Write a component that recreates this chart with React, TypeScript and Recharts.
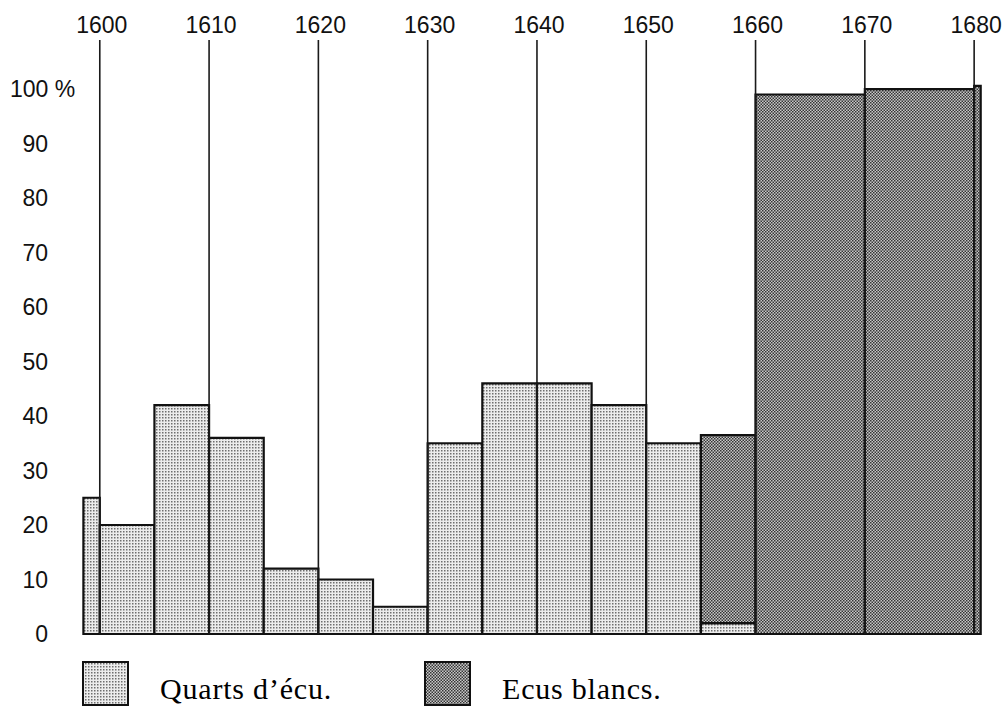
import React from 'react'
import { ComposedChart, XAxis, YAxis, ReferenceArea, ReferenceLine, Line } from 'recharts'

// each period: start year, end year, share of quarts d'écu and of écus blancs (%)
const periodStart = [1598.5, 1600, 1605, 1610, 1615, 1620, 1625, 1630, 1635, 1640, 1645, 1650, 1655, 1660, 1670, 1680]
const periodEnd = [1600, 1605, 1610, 1615, 1620, 1625, 1630, 1635, 1640, 1645, 1650, 1655, 1660, 1670, 1680, 1680.6]
const quartsShare = [25, 20, 42, 36, 12, 10, 5, 35, 46, 46, 42, 35, 2, 0, 0, 0]
const ecusShare = [0, 0, 0, 0, 0, 0, 0, 0, 0, 0, 0, 0, 34.5, 99, 100, 100.6]

const yearTicks = [1600, 1610, 1620, 1630, 1640, 1650, 1660, 1670, 1680]
const percentTicks = [0, 10, 20, 30, 40, 50, 60, 70, 80, 90, 100]

const rows = periodStart.map((start, i) => ({
  start,
  end: periodEnd[i],
  quarts: quartsShare[i],
  ecus: ecusShare[i],
}))

const SANS = '"Liberation Sans", Arial, Helvetica, sans-serif'
const SERIF = '"Liberation Serif", "Times New Roman", serif'

const Patterns = ({ prefix }: { prefix: string }) => (
  <defs>
    <pattern id={`${prefix}-quarts`} width={3} height={3} patternUnits="userSpaceOnUse">
      <rect width={3} height={3} fill="#ececec" />
      <rect x={0} y={0} width={1.5} height={1.5} fill="#6e6e6e" />
    </pattern>
    <pattern id={`${prefix}-ecus`} width={3} height={3} patternUnits="userSpaceOnUse">
      <rect width={3} height={3} fill="#c8c8c8" />
      <rect x={0} y={0} width={1.5} height={1.5} fill="#363636" />
      <rect x={1.5} y={1.5} width={1.5} height={1.5} fill="#363636" />
    </pattern>
  </defs>
)

const YearTick = ({ x, payload }: any) => (
  <text x={x + 2} y={33} textAnchor="middle" fontSize={23} fontFamily={SANS} fill="#111">
    {payload.value}
  </text>
)

const PercentTick = ({ y, payload }: any) =>
  payload.value === 100 ? (
    <text x={10} y={y} dy={8} textAnchor="start" fontSize={23} fontFamily={SANS} fill="#111">
      100 %
    </text>
  ) : (
    <text x={48} y={y} dy={8} textAnchor="end" fontSize={23} fontFamily={SANS} fill="#111">
      {payload.value}
    </text>
  )

const LegendItem = ({ left, label, kind }: { left: number; label: string; kind: string }) => (
  <div style={{ position: 'absolute', left, top: 660, display: 'flex', alignItems: 'flex-end' }}>
    <svg width={48} height={46}>
      <Patterns prefix={`lg-${kind}`} />
      <rect x={1} y={2} width={45} height={43} fill={`url(#lg-${kind}-${kind})`} stroke="#111" strokeWidth={2} />
    </svg>
    <span
      style={{
        fontFamily: SERIF,
        fontSize: 30,
        color: '#000',
        marginLeft: 30,
        lineHeight: '30px',
        paddingBottom: 2,
        letterSpacing: 0.8,
      }}
    >
      {label}
    </span>
  </div>
)

export default function App() {
  return (
    <div style={{ position: 'absolute', left: 0, top: 0, width: 1005, height: 706, background: '#fff' }}>
      <ComposedChart
        width={1005}
        height={706}
        data={rows}
        margin={{ top: 0, right: 9, bottom: 72, left: 0 }}
      >
        <Patterns prefix="ch" />
        <XAxis
          dataKey="start"
          type="number"
          orientation="top"
          domain={[1597, 1682]}
          ticks={yearTicks}
          allowDataOverflow
          axisLine={false}
          tickLine={false}
          height={40}
          tick={<YearTick />}
        />
        <YAxis
          type="number"
          domain={[0, 109]}
          ticks={percentTicks}
          allowDataOverflow
          axisLine={false}
          tickLine={false}
          width={67}
          tick={<PercentTick />}
        />
        <Line dataKey="quarts" stroke="none" dot={false} activeDot={false} isAnimationActive={false} />
        {rows.map((r, i) =>
          r.quarts > 0 ? (
            <ReferenceArea
              key={`q${i}`}
              x1={r.start}
              x2={r.end}
              y1={0}
              y2={r.quarts}
              fill="url(#ch-quarts)"
              fillOpacity={1}
              stroke="#111"
              strokeWidth={2.2}
              ifOverflow="visible"
            />
          ) : null
        )}
        {rows.map((r, i) =>
          r.ecus > 0 ? (
            <ReferenceArea
              key={`e${i}`}
              x1={r.start}
              x2={r.end}
              y1={r.quarts}
              y2={r.quarts + r.ecus}
              fill="url(#ch-ecus)"
              fillOpacity={1}
              stroke="#111"
              strokeWidth={2.2}
              ifOverflow="visible"
            />
          ) : null
        )}
        {yearTicks.map((yr) => (
          <ReferenceLine key={yr} x={yr} stroke="#1a1a1a" strokeWidth={1.6} ifOverflow="visible" />
        ))}
      </ComposedChart>
      <LegendItem left={82} label="Quarts d’écu." kind="quarts" />
      <LegendItem left={424} label="Ecus blancs." kind="ecus" />
    </div>
  )
}
